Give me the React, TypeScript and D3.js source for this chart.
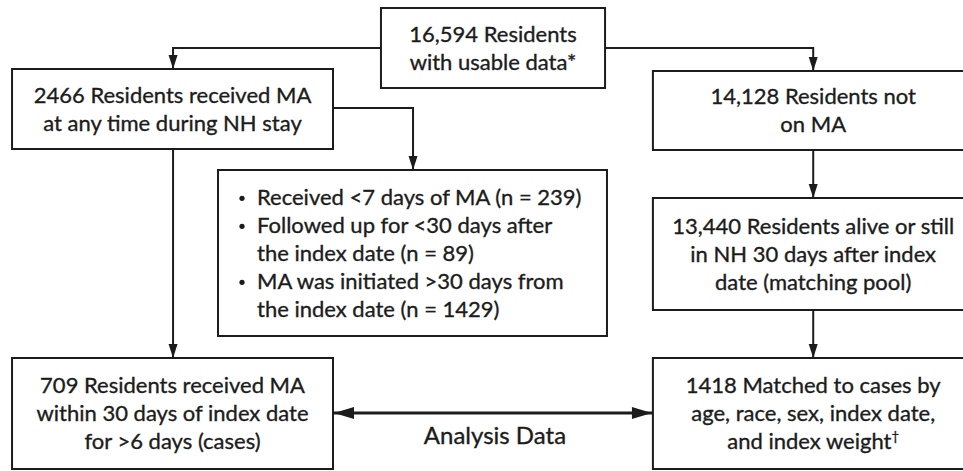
import * as d3 from 'd3';

// box texts
const topLines = ['16,594 Residents', 'with usable data*'];
const maLines = ['2466 Residents received MA', 'at any time during NH stay'];
const noMaLines = ['14,128 Residents not', 'on MA'];
const excludedBullets = [
  ['Received <7 days of MA (n = 239)'],
  ['Followed up for <30 days after', 'the index date (n = 89)'],
  ['MA was initiated >30 days from', 'the index date (n = 1429)'],
];
const poolLines = ['13,440 Residents alive or still', 'in NH 30 days after index', 'date (matching pool)'];
const caseLines = ['709 Residents received MA', 'within 30 days of index date', 'for >6 days (cases)'];
const matchedLines = ['1418 Matched to cases by', 'age, race, sex, index date,', 'and index weight\u2020'];
const linkLabel = 'Analysis Data';

const W = 963;
const H = 471;
const FONT = 'Lato, "Open Sans", sans-serif';
const FS = 22;
const LH = 28;
const INK = '#1c1c1c';

interface Box { x0: number; x1: number; y0: number; y1: number }

// layout grid
const x = d3.scaleLinear().domain([0, 1]).range([0, W]);
const box = (a: number, b: number, y0: number, y1: number): Box => ({ x0: x(a), x1: x(b), y0, y1 });

const bTop = box(0.3956, 0.6283, 8, 88);
const bMa = box(0.0125, 0.3458, 69, 149);
const bNoMa = box(0.678, 1.013, 71, 150);
const bExcl = box(0.2264, 0.6303, 170, 336);
const bPool = box(0.678, 1.013, 198, 310);
const bCase = box(0.0125, 0.3458, 358, 469);
const bMatch = box(0.678, 1.013, 358, 469);

const cx = (b: Box) => (b.x0 + b.x1) / 2;
const cy = (b: Box) => (b.y0 + b.y1) / 2;

const textStyle = { fontFamily: FONT, fontSize: FS, fill: INK, stroke: INK, strokeWidth: 0.35 };

// a trailing dagger is set as a small superscript
function Label({ s }: { s: string }) {
  if (s.endsWith('\u2020')) {
    return <>{s.slice(0, -1)}<tspan fontSize={FS * 0.6} dy={-8}>{'\u2020'}</tspan></>;
  }
  return <>{s}</>;
}

function CenteredText({ b, lines, centerX }: { b: Box; lines: string[]; centerX?: number }) {
  const mid = cy(b);
  const start = mid - ((lines.length - 1) * LH) / 2;
  return (
    <g>
      {lines.map((l, i) => (
        <text key={i} x={centerX ?? cx(b)} y={start + i * LH + FS * 0.36}
          textAnchor="middle" {...textStyle}><Label s={l} /></text>
      ))}
    </g>
  );
}

function Rect({ b }: { b: Box }) {
  return <rect x={b.x0} y={b.y0} width={b.x1 - b.x0} height={b.y1 - b.y0}
    fill="#fff" stroke={INK} strokeWidth={2} />;
}

function arrowHead(px: number, py: number, dir: 'down' | 'left' | 'right', len = 14, half = 4.5) {
  const p = d3.path();
  if (dir === 'down') {
    p.moveTo(px, py); p.lineTo(px - half, py - len); p.lineTo(px + half, py - len);
  } else if (dir === 'left') {
    p.moveTo(px, py); p.lineTo(px + len, py - half); p.lineTo(px + len, py + half);
  } else {
    p.moveTo(px, py); p.lineTo(px - len, py - half); p.lineTo(px - len, py + half);
  }
  p.closePath();
  return p.toString();
}

export default function App() {
  const line = d3.line();
  const leftX = x(0.1797);
  const rightX = cx(bNoMa) - 1;
  const exclX = x(0.4289);
  const splitY = cy(bTop);
  const branchY = 108;
  const linkY = cy(bCase) - 0.5;

  const connectors: [number, number][][] = [
    [[bTop.x0, splitY], [leftX, splitY], [leftX, bMa.y0]],
    [[bTop.x1, splitY], [rightX, splitY], [rightX, bNoMa.y0]],
    [[bMa.x1, branchY], [exclX, branchY], [exclX, bExcl.y0]],
    [[leftX, bMa.y1], [leftX, bCase.y0]],
    [[rightX, bNoMa.y1], [rightX, bPool.y0]],
    [[rightX, bPool.y1], [rightX, bMatch.y0]],
  ];

  const bulletX = bExcl.x0 + 24;
  const bulletTextX = bExcl.x0 + 39;
  let row = 0;
  const exclStart = cy(bExcl) - 2 * LH;

  return (
    <svg width={W} height={H} style={{ position: 'absolute', left: 0, top: 0, background: '#fff' }}>
      {connectors.map((pts, i) => {
        const end = pts[pts.length - 1];
        return (
          <g key={i}>
            <path d={line(pts) ?? ''} fill="none" stroke={INK} strokeWidth={2} />
            <path d={arrowHead(end[0], end[1], 'down')} fill={INK} />
          </g>
        );
      })}
      <path d={line([[bCase.x1, linkY], [bMatch.x0, linkY]]) ?? ''} stroke={INK} strokeWidth={3} />
      <path d={arrowHead(bCase.x1 + 1, linkY, 'left', 20, 6)} fill={INK} />
      <path d={arrowHead(bMatch.x0 - 1, linkY, 'right', 20, 6)} fill={INK} />
      <text x={(bCase.x1 + bMatch.x0) / 2 + 2} y={444} textAnchor="middle"
        {...textStyle} fontSize={24}>{linkLabel}</text>

      {[bTop, bMa, bNoMa, bExcl, bPool, bCase, bMatch].map((b, i) => <Rect key={i} b={b} />)}

      <CenteredText b={bTop} lines={topLines} />
      <CenteredText b={bMa} lines={maLines} />
      <CenteredText b={bNoMa} lines={noMaLines} centerX={rightX} />
      <CenteredText b={bPool} lines={poolLines} centerX={rightX} />
      <CenteredText b={bCase} lines={caseLines} />
      <CenteredText b={bMatch} lines={matchedLines} centerX={rightX} />

      {excludedBullets.map((item, i) => (
        <g key={i}>
          {item.map((l, j) => {
            const y = exclStart + (row++) * LH + FS * 0.36;
            return (
              <g key={j}>
                {j === 0 && <circle cx={bulletX} cy={y - FS * 0.3} r={2.6} fill={INK} />}
                <text x={bulletTextX} y={y} {...textStyle}>{l}</text>
              </g>
            );
          })}
        </g>
      ))}
    </svg>
  );
}
